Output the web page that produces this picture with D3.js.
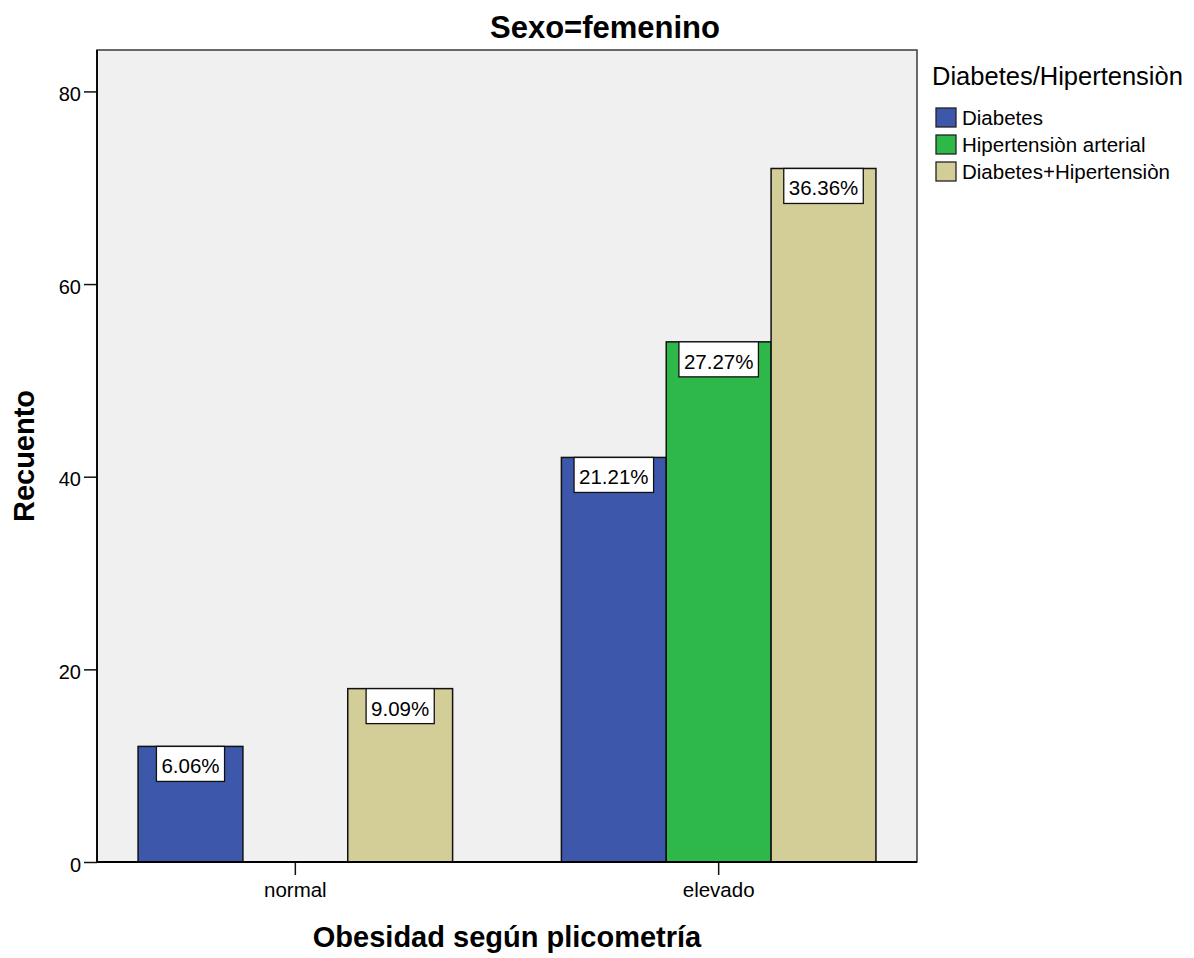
<!DOCTYPE html>
<html>
<head>
<meta charset="utf-8">
<script src="https://cdn.jsdelivr.net/npm/d3@7"></script>
<style>
  html, body { margin: 0; padding: 0; background: #ffffff; }
  svg { display: block; }
  text { font-family: "Liberation Sans", Arial, sans-serif; fill: #000; }
</style>
</head>
<body>
<svg id="chart" width="1194" height="958"></svg>
<script>
// ---- data ----
const categories = ["normal", "elevado"];
const seriesNames = ["Diabetes", "Hipertensiòn arterial", "Diabetes+Hipertensiòn"];
const diabetesCounts = [12, 42];
const hipertensionCounts = [0, 54];
const ambosCounts = [18, 72];
const yTicks = [0, 20, 40, 60, 80];
const seriesColors = ["#3d58ab", "#2fb84a", "#d3ce98"];

const chartTitle = "Sexo=femenino";
const xTitle = "Obesidad según plicometría";
const yTitle = "Recuento";
const legendTitle = "Diabetes/Hipertensiòn";

const seriesValues = [diabetesCounts, hipertensionCounts, ambosCounts];
const total = d3.sum(seriesValues.flat());

const rows = [];
categories.forEach((c, ci) => {
  seriesNames.forEach((s, si) => {
    rows.push({ cat: c, series: s, si, value: seriesValues[si][ci] });
  });
});

// ---- layout ----
const plot = { left: 97, top: 50, right: 917, bottom: 862 };
const svg = d3.select("#chart");

const x = d3.scaleBand().domain(categories)
  .range([plot.left, plot.right])
  .paddingInner(0.257).paddingOuter(0.097);
const xs = d3.scaleBand().domain(seriesNames).range([0, x.bandwidth()]).padding(0);
const y = d3.scaleLinear().domain([0, 84.3]).range([plot.bottom, plot.top]);
const color = d3.scaleOrdinal().domain(seriesNames).range(seriesColors);

// plot background frame
svg.append("rect")
  .attr("x", plot.left).attr("y", plot.top)
  .attr("width", plot.right - plot.left).attr("height", plot.bottom - plot.top)
  .attr("fill", "#f0f0f0").attr("stroke", "#3a3a3a").attr("stroke-width", 1.5);

// bars
const bars = rows.filter(d => d.value > 0);
svg.append("g").selectAll("rect").data(bars).join("rect")
  .attr("x", d => x(d.cat) + xs(d.series))
  .attr("y", d => y(d.value))
  .attr("width", xs.bandwidth())
  .attr("height", d => y(0) - y(d.value))
  .attr("fill", d => color(d.series))
  .attr("stroke", "#111").attr("stroke-width", 1.5);

// value labels
const lbl = svg.append("g").selectAll("g").data(bars).join("g")
  .attr("transform", d => `translate(${x(d.cat) + xs(d.series) + xs.bandwidth() / 2},${y(d.value)})`);
lbl.append("text")
  .attr("class", "vl")
  .attr("text-anchor", "middle")
  .attr("y", 27)
  .style("font-size", "20.5px")
  .text(d => (d.value / total * 100).toFixed(2) + "%");
lbl.each(function () {
  const g = d3.select(this);
  const t = g.select("text");
  const w = t.node().getComputedTextLength() + 10;
  g.insert("rect", "text")
    .attr("x", -w / 2).attr("y", 0)
    .attr("width", w).attr("height", 35)
    .attr("fill", "#ffffff").attr("stroke", "#111").attr("stroke-width", 1.3);
});

// y axis
const yAxis = svg.append("g")
  .attr("transform", `translate(${plot.left},0)`)
  .call(d3.axisLeft(y).tickValues(yTicks).tickSize(13).tickPadding(3).tickFormat(d3.format("d")));
yAxis.select(".domain").remove();
yAxis.selectAll("line").attr("stroke", "#111").attr("stroke-width", 1.5);
yAxis.selectAll("text").style("font-size", "20px").attr("dy", "0.45em")
  .style("font-family", "'Liberation Sans', Arial, sans-serif").attr("fill", "#111");

// x axis
const xAxis = svg.append("g")
  .attr("transform", `translate(0,${plot.bottom})`)
  .call(d3.axisBottom(x).tickSize(13).tickPadding(7));
xAxis.select(".domain").remove();
xAxis.selectAll("line").attr("stroke", "#111").attr("stroke-width", 1.5);
xAxis.selectAll("text").style("font-size", "20.5px")
  .style("font-family", "'Liberation Sans', Arial, sans-serif").attr("fill", "#111");

// axis lines
svg.append("line").attr("x1", plot.left).attr("x2", plot.left)
  .attr("y1", plot.top).attr("y2", plot.bottom).attr("stroke", "#000").attr("stroke-width", 1.8);
svg.append("line").attr("x1", plot.left).attr("x2", plot.right)
  .attr("y1", plot.bottom).attr("y2", plot.bottom).attr("stroke", "#000").attr("stroke-width", 1.8);

// titles
svg.append("text").attr("x", 605).attr("y", 38)
  .attr("text-anchor", "middle").style("font-size", "31px").style("font-weight", "bold")
  .text(chartTitle);
svg.append("text").attr("x", (plot.left + plot.right) / 2).attr("y", 947)
  .attr("text-anchor", "middle").style("font-size", "29px").style("font-weight", "bold")
  .text(xTitle);
svg.append("text")
  .attr("transform", `translate(34,${(plot.top + plot.bottom) / 2}) rotate(-90)`)
  .attr("text-anchor", "middle").style("font-size", "29px").style("font-weight", "bold")
  .text(yTitle);

// legend
const legend = svg.append("g").attr("transform", "translate(932,0)");
legend.append("text").attr("x", 0).attr("y", 85)
  .style("font-size", "25.5px").attr("fill", "#222").text(legendTitle);
const li = legend.selectAll("g.li").data(seriesNames).join("g")
  .attr("class", "li")
  .attr("transform", (d, i) => `translate(4,${108 + i * 27})`);
li.append("rect").attr("width", 20).attr("height", 19)
  .attr("fill", d => color(d)).attr("stroke", "#222").attr("stroke-width", 1.3);
li.append("text").attr("x", 26).attr("y", 17)
  .style("font-size", "20.5px").text(d => d);
</script>
</body>
</html>
